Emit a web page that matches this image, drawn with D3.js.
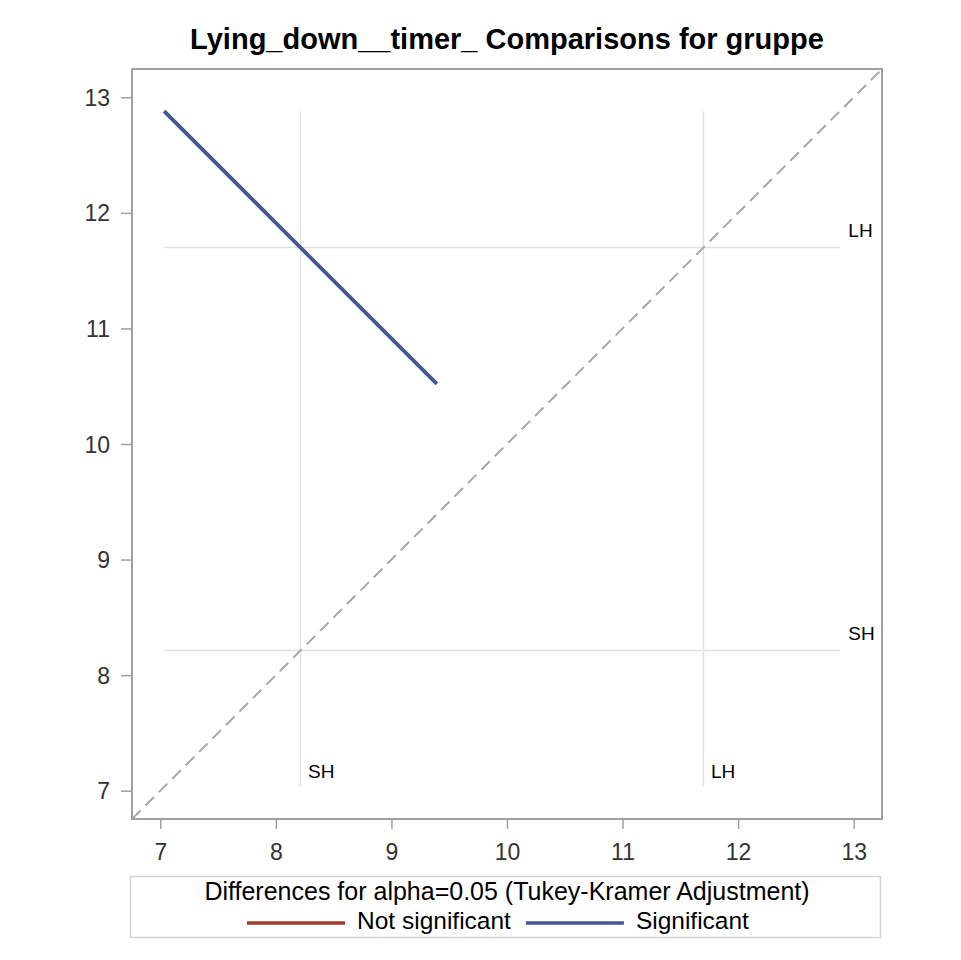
<!DOCTYPE html>
<html>
<head>
<meta charset="utf-8">
<script src="https://cdn.jsdelivr.net/npm/d3@7"></script>
<style>
  html, body { margin: 0; padding: 0; background: #fff; }
  svg { display: block; font-family: "Liberation Sans", Arial, sans-serif; }
</style>
</head>
<body>
<svg id="chart" width="961" height="960"></svg>
<script>
// LS-means per group and the pairwise difference (Tukey-Kramer, alpha = 0.05)
const levels = ["SH", "LH"];
const lsmeans = [8.213, 11.70];
const diffPairs = [["SH", "LH"]];
const diffLower = [1.127];
const diffUpper = [5.847];
const diffSignificant = [true];

const xTicks = [7, 8, 9, 10, 11, 12, 13];
const yTicks = [7, 8, 9, 10, 11, 12, 13];
const axisDomain = [6.755, 13.245];

const titleText = "Lying_down__timer_ Comparisons for gruppe";
const legendTitle = "Differences for alpha=0.05 (Tukey-Kramer Adjustment)";
const legendLabels = ["Not significant", "Significant"];
const colorNotSig = "#a23a2e";
const colorSig = "#445694";

const svg = d3.select("#chart");
const plot = { left: 132, right: 882, top: 69, bottom: 819 };

const x = d3.scaleLinear().domain(axisDomain).range([plot.left, plot.right]);
const y = d3.scaleLinear().domain(axisDomain).range([plot.bottom, plot.top]);

const meanOf = Object.fromEntries(levels.map((l, i) => [l, lsmeans[i]]));

// Segment for each comparison: centred on (mean_i, mean_j), slope -1,
// half-extent along each axis is a quarter of the CI width
const segments = diffPairs.map((p, k) => {
  const cx = meanOf[p[0]], cy = meanOf[p[1]];
  const h = (diffUpper[k] - diffLower[k]) / 4;
  return { x1: cx - h, y1: cy + h, x2: cx + h, y2: cy - h, sig: diffSignificant[k] };
});
const ends = segments.flatMap(s => [s.x1, s.y1, s.x2, s.y2]);
const refMin = d3.min(ends), refMax = d3.max(ends);

// Title
svg.append("text")
  .attr("x", (plot.left + plot.right) / 2)
  .attr("y", 49)
  .attr("text-anchor", "middle")
  .attr("font-size", 29)
  .attr("font-weight", "bold")
  .attr("fill", "#000")
  .text(titleText);

// Reference lines at each mean
const refG = svg.append("g");
lsmeans.forEach(m => {
  refG.append("line")
    .attr("x1", x(m)).attr("x2", x(m))
    .attr("y1", y(refMax)).attr("y2", y(refMin))
    .attr("stroke", "#e2e2e2").attr("stroke-width", 1.5);
  refG.append("line")
    .attr("x1", x(refMin)).attr("x2", x(refMax))
    .attr("y1", y(m)).attr("y2", y(m))
    .attr("stroke", "#e2e2e2").attr("stroke-width", 1.5);
});

// Diagonal
svg.append("line")
  .attr("x1", x(axisDomain[0])).attr("y1", y(axisDomain[0]))
  .attr("x2", x(axisDomain[1])).attr("y2", y(axisDomain[1]))
  .attr("stroke", "#a8a8a8").attr("stroke-width", 2)
  .attr("stroke-dasharray", "12,7");

// Comparison segments
svg.append("g").selectAll("line").data(segments).join("line")
  .attr("x1", d => x(d.x1)).attr("y1", d => y(d.y1))
  .attr("x2", d => x(d.x2)).attr("y2", d => y(d.y2))
  .attr("stroke", d => d.sig ? colorSig : colorNotSig)
  .attr("stroke-width", 3.8);

// Level labels
const labG = svg.append("g").attr("font-size", 19).attr("fill", "#000");
levels.forEach((l, i) => {
  labG.append("text")
    .attr("x", x(refMax) + 8.5).attr("y", y(lsmeans[i]) - 10.6)
    .text(l);
  labG.append("text")
    .attr("x", x(lsmeans[i]) + 7.5).attr("y", y(refMin) - 8.4)
    .text(l);
});

// Axes
const xAxis = svg.append("g")
  .attr("transform", `translate(0,${plot.bottom})`)
  .call(d3.axisBottom(x).tickValues(xTicks).tickSize(10).tickFormat(d3.format("d")));
xAxis.select(".domain").remove();
xAxis.selectAll(".tick line").attr("stroke", "#a0a0a0").attr("stroke-width", 1.5);
xAxis.selectAll(".tick text")
  .attr("y", 41).attr("dy", null)
  .attr("font-size", 23).attr("font-family", "Liberation Sans, Arial, sans-serif")
  .attr("fill", "#333");

const yAxis = svg.append("g")
  .attr("transform", `translate(${plot.left},0)`)
  .call(d3.axisLeft(y).tickValues(yTicks).tickSize(11).tickFormat(d3.format("d")));
yAxis.select(".domain").remove();
yAxis.selectAll(".tick line").attr("stroke", "#a0a0a0").attr("stroke-width", 1.5);
yAxis.selectAll(".tick text")
  .attr("x", -22).attr("dy", "0.35em")
  .attr("font-size", 23).attr("font-family", "Liberation Sans, Arial, sans-serif")
  .attr("fill", "#333");

// Plot frame
svg.append("rect")
  .attr("x", plot.left).attr("y", plot.top)
  .attr("width", plot.right - plot.left).attr("height", plot.bottom - plot.top)
  .attr("fill", "none").attr("stroke", "#a0a0a0").attr("stroke-width", 2);

// Legend
const leg = svg.append("g");
leg.append("rect")
  .attr("x", 130.5).attr("y", 876.5).attr("width", 750).attr("height", 61)
  .attr("fill", "none").attr("stroke", "#d4d4d4").attr("stroke-width", 1.5);
leg.append("text")
  .attr("x", 507).attr("y", 900)
  .attr("text-anchor", "middle").attr("font-size", 25).attr("fill", "#000")
  .text(legendTitle);

let lx = 247;
[colorNotSig, colorSig].forEach((c, i) => {
  leg.append("line")
    .attr("x1", lx).attr("x2", lx + 98)
    .attr("y1", 923).attr("y2", 923)
    .attr("stroke", c).attr("stroke-width", 3.5);
  const t = leg.append("text")
    .attr("x", lx + 110).attr("y", 929)
    .attr("font-size", 24.5).attr("fill", "#000")
    .text(legendLabels[i]);
  lx = lx + 110 + t.node().getComputedTextLength() + 15;
});
</script>
</body>
</html>
